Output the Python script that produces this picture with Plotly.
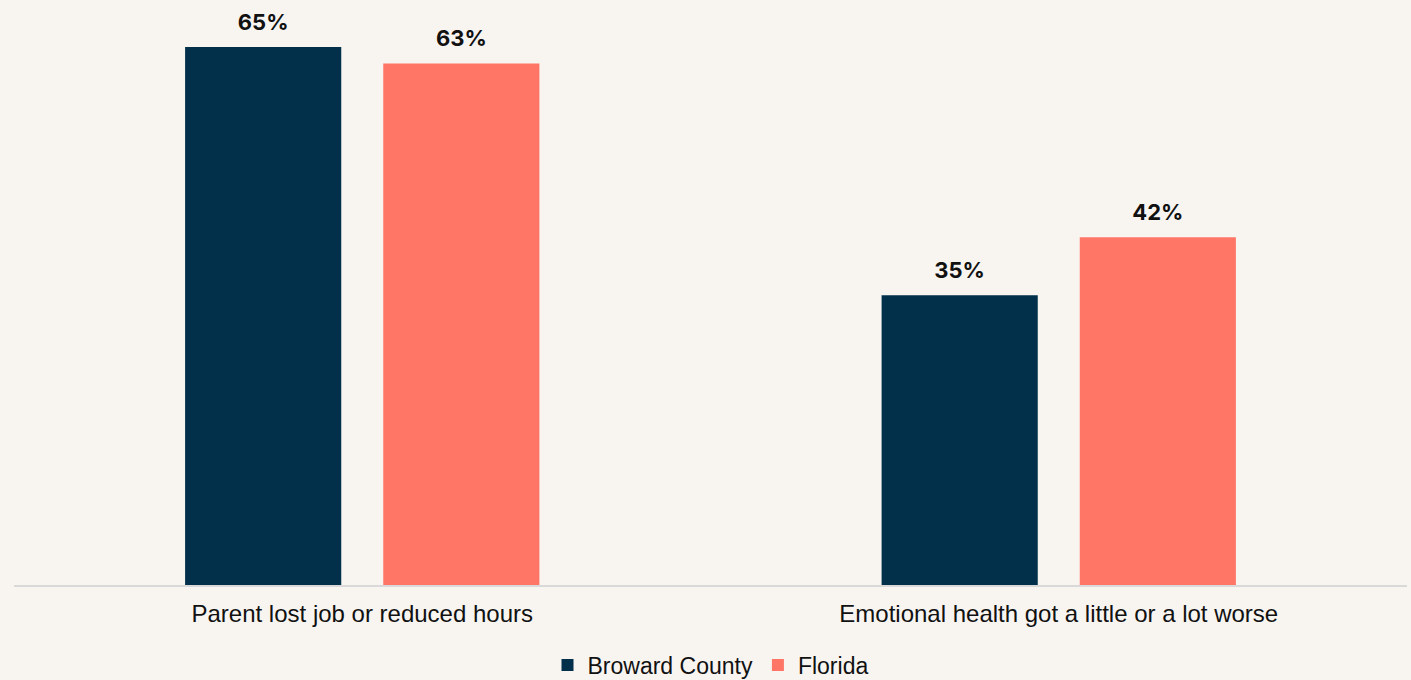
import plotly.graph_objects as go

categories = ["Parent lost job or reduced hours", "Emotional health got a little or a lot worse"]
broward = [65, 35]
florida = [63, 42]
series_names = ["Broward County", "Florida"]
colors = ["#022F4A", "#FF7666"]

fig = go.Figure()
for i, (name, vals) in enumerate(zip(series_names, [broward, florida])):
    fig.add_trace(go.Bar(
        x=categories, y=vals, name=name, offsetgroup=str(i),
        marker=dict(color=colors[i], line=dict(width=0)),
        hoverinfo="x+y+name",
    ))
for i, (name, vals) in enumerate(zip(series_names, [broward, florida])):
    fig.add_trace(go.Scatter(
        x=categories, y=vals, name=name, offsetgroup=str(i),
        mode="markers+text", text=[f"{v}%" for v in vals], textposition="top center",
        marker=dict(size=17, color="rgba(0,0,0,0)", line=dict(width=0)),
        textfont=dict(family="Inter, Liberation Sans, Arial", size=22, color="#111111", weight="bold"),
        showlegend=False, hoverinfo="skip", cliponaxis=False,
    ))

fig.update_layout(
    width=1411, height=680,
    barmode="group", bargap=0.431, bargroupgap=0.212,
    scattermode="group", scattergap=0.431,
    paper_bgcolor="#F8F5F1", plot_bgcolor="#F8F5F1",
    margin=dict(l=14, r=4, t=8, b=95, autoexpand=False),
    font=dict(family="Liberation Sans, Arial", size=24, color="#111111"),
    showlegend=True,
    legend=dict(orientation="h", x=0.5, xanchor="center", yref="container", y=0.022, yanchor="middle",
                font=dict(size=23, color="#111111"), itemwidth=30, traceorder="normal"),
    xaxis=dict(showline=True, linecolor="#D9D9D9", linewidth=2, ticks="outside",
               ticklen=6, tickcolor="rgba(0,0,0,0)", showgrid=False,
               tickfont=dict(size=24, color="#111111")),
    yaxis=dict(visible=False, range=[0, 69.7], showgrid=False, zeroline=False),
)
fig.write_html("out.html", config={"displayModeBar": False})

with open("out.html", "r", encoding="utf-8") as f:
    html = f.read()
html = html.replace("<head>", "<head><style>html,body{margin:0;padding:0;background:#F8F5F1;}</style>", 1)
with open("out.html", "w", encoding="utf-8") as f:
    f.write(html)
